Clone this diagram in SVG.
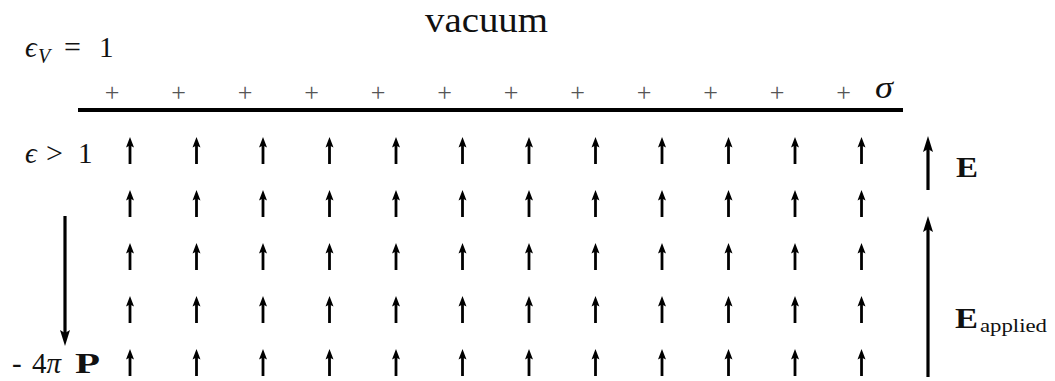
<svg xmlns="http://www.w3.org/2000/svg" xmlns:xlink="http://www.w3.org/1999/xlink" width="1055" height="381" viewBox="0 0 1055 381">
<style>
.t{font-family:"Liberation Serif","DejaVu Serif",serif;fill:#111}
.i{font-style:italic}
.b{font-weight:bold}
.plus{font-family:"Liberation Serif",serif;font-size:26px;fill:#555;text-anchor:middle}
.ln{stroke:#000;fill:none}
</style>
<defs>
<g id="sa">
<line x1="0" y1="6" x2="0" y2="27" stroke="#000" stroke-width="2.8"/>
<path d="M0,0 L4,10.5 L0,8.5 L-4,10.5 Z" fill="#000"/>
</g>
</defs>
<rect width="1055" height="381" fill="#fff"/>
<g id="labels">
<text class="t" x="425" y="32" font-size="35" textLength="123" lengthAdjust="spacingAndGlyphs">vacuum</text>
<text class="t i" x="25" y="57" font-size="29">ϵ</text>
<text class="t i" x="38" y="63" font-size="20">V</text>
<text class="t" x="64" y="57" font-size="30">=</text>
<text class="t" x="99" y="57" font-size="29">1</text>
<text class="t i" x="25" y="163" font-size="29">ϵ</text>
<text class="t" x="46" y="163" font-size="30">&gt;</text>
<text class="t" x="78" y="163" font-size="29">1</text>
<text class="t i" x="875" y="98" font-size="31" textLength="18" lengthAdjust="spacingAndGlyphs">σ</text>
<text class="t b" x="956" y="177" font-size="29" textLength="22" lengthAdjust="spacingAndGlyphs">E</text>
<text class="t b" x="955" y="328" font-size="29" textLength="23" lengthAdjust="spacingAndGlyphs">E</text>
<text class="t" x="980" y="332" font-size="19" textLength="67" lengthAdjust="spacingAndGlyphs">applied</text>
<text class="t" x="12" y="373" font-size="29">-</text>
<text class="t" x="32" y="373" font-size="29">4<tspan class="i">π</tspan></text>
<text class="t b" x="75" y="373" font-size="29" textLength="25" lengthAdjust="spacingAndGlyphs">P</text>
</g>
<g id="surface">
<line class="ln" x1="78" y1="110" x2="903" y2="110" stroke-width="3.8"/>
<text class="plus" x="112" y="101">+</text>
<text class="plus" x="178.5" y="101">+</text>
<text class="plus" x="245" y="101">+</text>
<text class="plus" x="311.5" y="101">+</text>
<text class="plus" x="378" y="101">+</text>
<text class="plus" x="444.5" y="101">+</text>
<text class="plus" x="511" y="101">+</text>
<text class="plus" x="577.5" y="101">+</text>
<text class="plus" x="644" y="101">+</text>
<text class="plus" x="710.5" y="101">+</text>
<text class="plus" x="777" y="101">+</text>
<text class="plus" x="843.5" y="101">+</text>
</g>
<g id="field-arrows">
<use xlink:href="#sa" x="130" y="137"/><use xlink:href="#sa" x="196.5" y="137"/><use xlink:href="#sa" x="263" y="137"/><use xlink:href="#sa" x="329.5" y="137"/><use xlink:href="#sa" x="396" y="137"/><use xlink:href="#sa" x="462.5" y="137"/><use xlink:href="#sa" x="529" y="137"/><use xlink:href="#sa" x="595.5" y="137"/><use xlink:href="#sa" x="662" y="137"/><use xlink:href="#sa" x="728.5" y="137"/><use xlink:href="#sa" x="795" y="137"/><use xlink:href="#sa" x="861.5" y="137"/>
<use xlink:href="#sa" x="130" y="190"/><use xlink:href="#sa" x="196.5" y="190"/><use xlink:href="#sa" x="263" y="190"/><use xlink:href="#sa" x="329.5" y="190"/><use xlink:href="#sa" x="396" y="190"/><use xlink:href="#sa" x="462.5" y="190"/><use xlink:href="#sa" x="529" y="190"/><use xlink:href="#sa" x="595.5" y="190"/><use xlink:href="#sa" x="662" y="190"/><use xlink:href="#sa" x="728.5" y="190"/><use xlink:href="#sa" x="795" y="190"/><use xlink:href="#sa" x="861.5" y="190"/>
<use xlink:href="#sa" x="130" y="243"/><use xlink:href="#sa" x="196.5" y="243"/><use xlink:href="#sa" x="263" y="243"/><use xlink:href="#sa" x="329.5" y="243"/><use xlink:href="#sa" x="396" y="243"/><use xlink:href="#sa" x="462.5" y="243"/><use xlink:href="#sa" x="529" y="243"/><use xlink:href="#sa" x="595.5" y="243"/><use xlink:href="#sa" x="662" y="243"/><use xlink:href="#sa" x="728.5" y="243"/><use xlink:href="#sa" x="795" y="243"/><use xlink:href="#sa" x="861.5" y="243"/>
<use xlink:href="#sa" x="130" y="296"/><use xlink:href="#sa" x="196.5" y="296"/><use xlink:href="#sa" x="263" y="296"/><use xlink:href="#sa" x="329.5" y="296"/><use xlink:href="#sa" x="396" y="296"/><use xlink:href="#sa" x="462.5" y="296"/><use xlink:href="#sa" x="529" y="296"/><use xlink:href="#sa" x="595.5" y="296"/><use xlink:href="#sa" x="662" y="296"/><use xlink:href="#sa" x="728.5" y="296"/><use xlink:href="#sa" x="795" y="296"/><use xlink:href="#sa" x="861.5" y="296"/>
<use xlink:href="#sa" x="130" y="349"/><use xlink:href="#sa" x="196.5" y="349"/><use xlink:href="#sa" x="263" y="349"/><use xlink:href="#sa" x="329.5" y="349"/><use xlink:href="#sa" x="396" y="349"/><use xlink:href="#sa" x="462.5" y="349"/><use xlink:href="#sa" x="529" y="349"/><use xlink:href="#sa" x="595.5" y="349"/><use xlink:href="#sa" x="662" y="349"/><use xlink:href="#sa" x="728.5" y="349"/><use xlink:href="#sa" x="795" y="349"/><use xlink:href="#sa" x="861.5" y="349"/>
</g>
<g id="connectors">
<line class="ln" x1="928" y1="146" x2="928" y2="190" stroke-width="3.2"/>
<path d="M928,136 L933,152 L928,149 L923,152 Z" fill="#000"/>
<line class="ln" x1="928" y1="226" x2="928" y2="377" stroke-width="3.2"/>
<path d="M928,216 L933,232 L928,229 L923,232 Z" fill="#000"/>
<line class="ln" x1="65" y1="216" x2="65" y2="336" stroke-width="3.2"/>
<path d="M65,346 L70,330 L65,333 L60,330 Z" fill="#000"/>
</g>
</svg>
